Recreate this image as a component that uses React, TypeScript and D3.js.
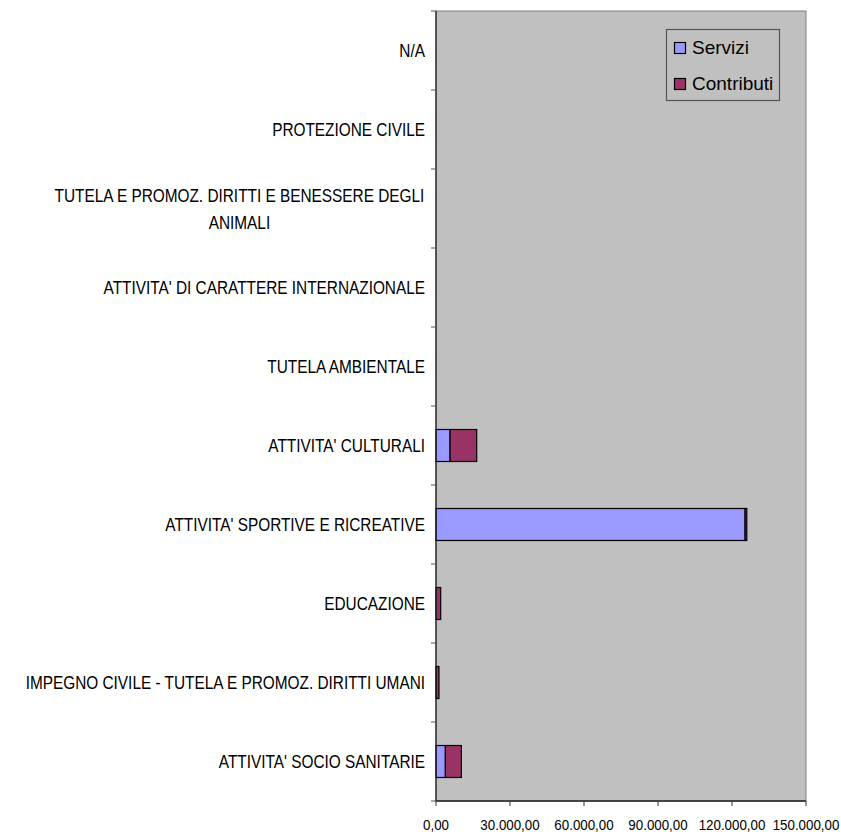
import React from "react";
import * as d3 from "d3";

const categories = [
  "ATTIVITA' SOCIO SANITARIE",
  "IMPEGNO CIVILE - TUTELA E PROMOZ. DIRITTI UMANI",
  "EDUCAZIONE",
  "ATTIVITA' SPORTIVE E RICREATIVE",
  "ATTIVITA' CULTURALI",
  "TUTELA AMBIENTALE",
  "ATTIVITA' DI CARATTERE INTERNAZIONALE",
  "TUTELA E PROMOZ. DIRITTI E BENESSERE DEGLI ANIMALI",
  "PROTEZIONE CIVILE",
  "N/A",
];
const servizi = [3800, 0, 0, 125300, 5700, 0, 0, 0, 0, 0];
const contributi = [6500, 1200, 1900, 700, 10800, 0, 0, 0, 0, 0];
const seriesNames = ["Servizi", "Contributi"];
const seriesColors = ["#9999FF", "#993366"];
const xTicks = [0, 30000, 60000, 90000, 120000, 150000];
const xMax = 150000;

const W = 841;
const H = 832;
const M = { left: 436, right: 806, top: 11, bottom: 801 };
const FONT = "'Liberation Sans', Arial, sans-serif";
const LABEL_SIZE = 19;
const LABEL_SX = 0.81;
const WRAP_W = 420;
const LINE_H = 26.7;

const itLocale = d3.formatLocale({ decimal: ",", thousands: ".", grouping: [3], currency: ["€", ""] });
const fmt = itLocale.format(",.2f");

let ctx: CanvasRenderingContext2D | null = null;
function measure(s: string): number {
  if (!ctx) ctx = document.createElement("canvas").getContext("2d");
  if (!ctx) return s.length * LABEL_SIZE * 0.6 * LABEL_SX;
  ctx.font = `${LABEL_SIZE}px 'Liberation Sans', Arial, sans-serif`;
  return ctx.measureText(s).width * LABEL_SX;
}
function wrap(label: string): string[] {
  const words = label.split(" ");
  const lines: string[] = [];
  let cur = "";
  for (const w of words) {
    const test = cur ? cur + " " + w : w;
    if (cur && measure(test) > WRAP_W) {
      lines.push(cur);
      cur = w;
    } else cur = test;
  }
  if (cur) lines.push(cur);
  return lines;
}

export default function App() {
  const x = d3.scaleLinear().domain([0, xMax]).range([M.left, M.right]);
  const order = categories.slice().reverse();
  const y = d3.scaleBand<string>().domain(order).range([M.top, M.bottom]).padding(0);
  const bw = y.bandwidth();
  const barH = bw * 0.405;
  const stacked = d3.stack<number>().keys(["0", "1"]).value((i, k) => (k === "0" ? servizi[i] : contributi[i]))(
    categories.map((_, i) => i)
  );
  const boundaries = d3.range(categories.length + 1).map((i) => M.top + i * bw);
  const capH = 0.716 * LABEL_SIZE;

  return (
    <svg width={W} height={H} style={{ position: "absolute", left: 0, top: 0, background: "#fff" }}>
      <rect x={M.left} y={M.top} width={M.right - M.left} height={M.bottom - M.top} fill="#C0C0C0" stroke="#808080" strokeWidth={1} />
      {stacked.map((s, si) =>
        s.map((d, i) => {
          const v = d[1] - d[0];
          if (v <= 0) return null;
          const cat = categories[i];
          const yc = (y(cat) as number) + bw / 2;
          return (
            <rect
              key={`${si}-${i}`}
              x={x(d[0])}
              y={yc - barH / 2}
              width={Math.max(0.5, x(d[1]) - x(d[0]))}
              height={barH}
              fill={seriesColors[si]}
              stroke="#000"
              strokeWidth={1.2}
            />
          );
        })
      )}
      <line x1={M.left} x2={M.left} y1={M.top} y2={M.bottom} stroke="#222" strokeWidth={1.3} />
      {boundaries.map((b, i) => (
        <line key={i} x1={M.left - 5} x2={M.left} y1={b} y2={b} stroke="#555" strokeWidth={1} />
      ))}
      <line x1={M.left} x2={M.right} y1={M.bottom} y2={M.bottom} stroke="#222" strokeWidth={1.3} />
      {xTicks.map((t) => (
        <g key={t}>
          <line x1={x(t)} x2={x(t)} y1={M.bottom} y2={M.bottom + 5} stroke="#333" strokeWidth={1} />
          <text
            transform={`translate(${x(t)},830) scale(0.92,1)`}
            textAnchor="middle"
            fontFamily={FONT}
            fontSize={14.5}
            fill="#000"
          >
            {fmt(t)}
          </text>
        </g>
      ))}
      {categories.map((c) => {
        const lines = wrap(c);
        const center = (y(c) as number) + bw / 2;
        const n = lines.length;
        const blockW = Math.max(...lines.map(measure));
        const right = 425;
        return (
          <g key={c}>
            {lines.map((ln, li) => {
              const cy = center + (li - (n - 1) / 2) * LINE_H;
              const base = cy + capH / 2;
              const tx = n > 1 ? right - blockW / 2 : right;
              return (
                <text
                  key={li}
                  transform={`translate(${tx},${base}) scale(${LABEL_SX},1)`}
                  textAnchor={n > 1 ? "middle" : "end"}
                  fontFamily={FONT}
                  fontSize={LABEL_SIZE}
                  fill="#000"
                >
                  {ln}
                </text>
              );
            })}
          </g>
        );
      })}
      <rect x={666.5} y={29.5} width={113} height={71} fill="#C0C0C0" stroke="#555" strokeWidth={1.2} />
      {seriesNames.map((s, i) => (
        <g key={s}>
          <rect x={674.5} y={42.5 + i * 36} width={11} height={11} fill={seriesColors[i]} stroke="#000" strokeWidth={1.2} />
          <text x={692} y={54 + i * 36} fontFamily={FONT} fontSize={19} fill="#000">
            {s}
          </text>
        </g>
      ))}
    </svg>
  );
}
